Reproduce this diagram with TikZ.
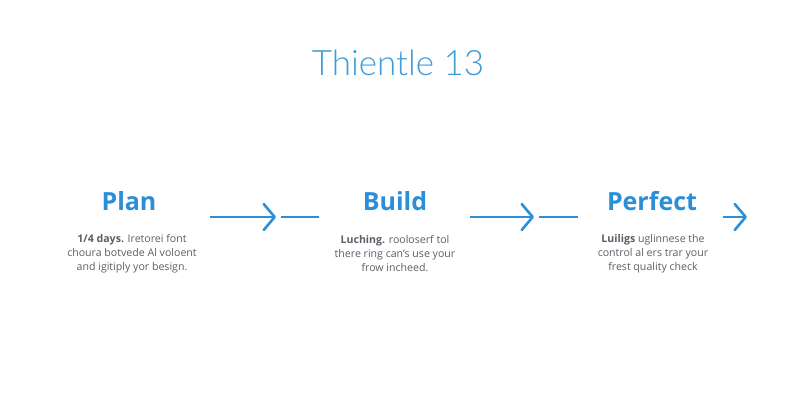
\documentclass[tikz,border=0pt]{standalone}
\usepackage{fontspec}
\setmainfont{Open Sans}
\newfontfamily\titlefont{Lato Light}
\usetikzlibrary{arrows.meta}
\definecolor{titleblue}{HTML}{3E9CD8}
\definecolor{headblue}{HTML}{2A8FD8}
\definecolor{arrowblue}{HTML}{2D8FD8}
\definecolor{bodygray}{HTML}{5A5F66}
\tikzset{
  titletext/.style={font=\titlefont\fontsize{35}{40}\selectfont, text=titleblue, inner sep=0pt},
  headtext/.style={font=\bfseries\fontsize{25}{30}\selectfont, text=headblue, inner sep=0pt},
  bodytext/.style={font=\fontsize{10.6}{14}\selectfont, text=bodygray, align=center, inner sep=0pt},
  flowarrow/.style={draw=arrowblue, line width=2.6pt, -{Straight Barb[length=11pt,width=26pt,line cap=round,line join=round]}},
  flowdash/.style={draw=arrowblue, line width=2.6pt}
}
\begin{document}
\begin{tikzpicture}[x=1pt,y=-1pt]
\useasboundingbox[fill=white] (0,0) rectangle (800,400);
\node[titletext] (title) at (398,63) {Thientle 13};

\node[headtext] (plan) at (129,201) {Plan};
\node[headtext] (build) at (395,201) {Build};
\node[headtext] (perfect) at (652,201) {Perfect};

\node[bodytext] (plantext) at (132,254) {\textbf{1/4 days.} Iretorei font\\choura botvede Al voloent\\and igitiply yor besign.};
\node[bodytext] (buildtext) at (395,254) {\textbf{Luching.} rooloserf tol\\there ring can's use your\\frow incheed.};
\node[bodytext] (perfecttext) at (653,254) {\textbf{Luiligs} uglinnese the\\control al ers trar your\\frest quality check};

\coordinate (a1s) at (210,217);
\coordinate (a1e) at (276,217);
\coordinate (d1s) at (281,217);
\coordinate (d1e) at (319,217);
\coordinate (a2s) at (470,217);
\coordinate (a2e) at (534,217);
\coordinate (d2s) at (539,217);
\coordinate (d2e) at (578,217);
\coordinate (a3s) at (723,217);
\coordinate (a3e) at (747,217);

\draw[flowarrow] (a1s) -- (a1e);
\draw[flowdash] (d1s) -- (d1e);
\draw[flowarrow] (a2s) -- (a2e);
\draw[flowdash] (d2s) -- (d2e);
\draw[flowarrow] (a3s) -- (a3e);
\end{tikzpicture}
\end{document}
